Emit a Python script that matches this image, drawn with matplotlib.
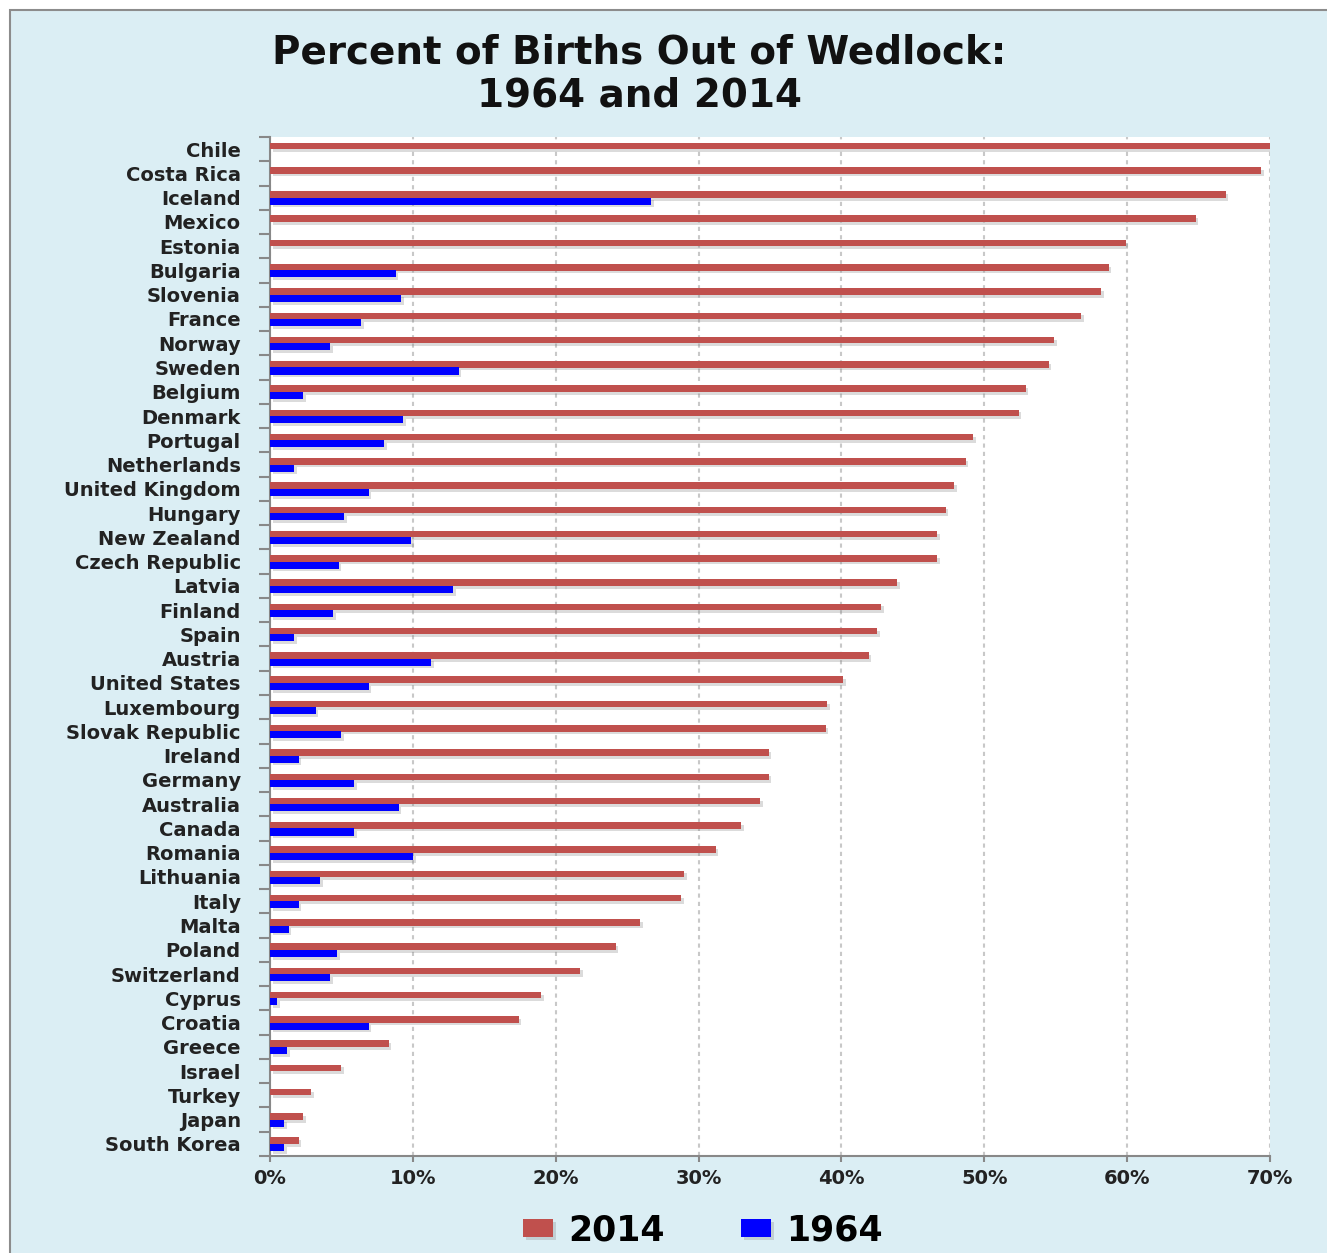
import matplotlib
matplotlib.use('Agg')
import matplotlib.pyplot as plt
import matplotlib.patheffects as pe
from matplotlib.patches import Rectangle
from matplotlib.ticker import FuncFormatter, MultipleLocator
import numpy as np

countries = ['Chile', 'Costa Rica', 'Iceland', 'Mexico', 'Estonia', 'Bulgaria',
             'Slovenia', 'France', 'Norway', 'Sweden', 'Belgium', 'Denmark',
             'Portugal', 'Netherlands', 'United Kingdom', 'Hungary',
             'New Zealand', 'Czech Republic', 'Latvia', 'Finland', 'Spain',
             'Austria', 'United States', 'Luxembourg', 'Slovak Republic',
             'Ireland', 'Germany', 'Australia', 'Canada', 'Romania',
             'Lithuania', 'Italy', 'Malta', 'Poland', 'Switzerland', 'Cyprus',
             'Croatia', 'Greece', 'Israel', 'Turkey', 'Japan', 'South Korea']

# percent of births out of wedlock, 2014
births_2014 = [70.0, 69.4, 66.9, 64.8, 59.9, 58.7, 58.2, 56.8, 54.9, 54.5,
               52.9, 52.4, 49.2, 48.7, 47.9, 47.3, 46.7, 46.7, 43.9, 42.8,
               42.5, 41.9, 40.1, 39.0, 38.9, 34.9, 34.9, 34.3, 33.0, 31.2,
               29.0, 28.8, 25.9, 24.2, 21.7, 19.0, 17.4, 8.3, 5.0, 2.9,
               2.3, 2.0]

# 1964 (0 where no bar is shown)
births_1964 = [0.0, 0.0, 26.7, 0.0, 0.0, 8.8, 9.2, 6.4, 4.2, 13.2,
               2.3, 9.3, 8.0, 1.7, 6.9, 5.2, 9.9, 4.8, 12.8, 4.4,
               1.7, 11.3, 6.9, 3.2, 5.0, 2.0, 5.9, 9.0, 5.9, 10.0,
               3.5, 2.0, 1.3, 4.7, 4.2, 0.5, 6.9, 1.2, 0.0, 0.0,
               1.0, 1.0]

red = '#c0504d'
blue = '#0000ff'
bg = '#dbeef4'

plt.rcParams['font.family'] = 'DejaVu Sans'
plt.rcParams['font.weight'] = 'bold'

fig = plt.figure(figsize=(13.27, 12.53), dpi=100, facecolor='white')
# light blue chart area with a grey frame on left/top
fig.patches.append(Rectangle((10 / 1327, -0.01), 1.0, 1 - 10 / 1253 + 0.01,
                             transform=fig.transFigure, facecolor=bg,
                             edgecolor='#8c8c8c', linewidth=1.5, zorder=-10))

ax = fig.add_axes([270 / 1327, 1 - 1156 / 1253, 1000 / 1327, 1019 / 1253])
ax.set_facecolor('white')

y = np.arange(len(countries))
shadow = [pe.SimplePatchShadow(offset=(2, -2), shadow_rgbFace='#888888',
                               alpha=0.3), pe.Normal()]
ax.barh(y - 0.13, births_2014, height=0.27, color=red, label='2014',
        path_effects=shadow, zorder=3)
ax.barh(y + 0.145, births_1964, height=0.29, color=blue, label='1964',
        path_effects=shadow, zorder=3)

ax.set_xlim(0, 70)
ax.set_ylim(len(countries) - 0.5, -0.5)
ax.xaxis.set_major_locator(MultipleLocator(10))
ax.xaxis.set_major_formatter(FuncFormatter(lambda v, p: '%d%%' % v))
ax.set_yticks(y)
ax.set_yticklabels(countries)
ax.set_yticks(np.arange(-0.5, len(countries)), minor=True)

ax.tick_params(axis='y', which='major', length=0, pad=21, labelsize=14,
               labelcolor='#222222')
ax.tick_params(axis='y', which='minor', length=8, color='#888888', width=1.5)
ax.tick_params(axis='x', which='major', length=4, color='#888888', width=1.5,
               labelsize=14, labelcolor='#222222', pad=5)

ax.grid(axis='x', linestyle=(0, (2, 2)), color='#c8c8c8', linewidth=1.5,
        zorder=0)
ax.set_axisbelow(True)
for side in ('top', 'right'):
    ax.spines[side].set_visible(False)
for side in ('left', 'bottom'):
    ax.spines[side].set_color('#888888')
    ax.spines[side].set_linewidth(1.5)

fig.text(0.482, 0.958, 'Percent of Births Out of Wedlock:', ha='center',
         va='center', fontsize=28, fontweight='bold', color='#111111')
fig.text(0.482, 0.924, '1964 and 2014', ha='center', va='center',
         fontsize=28, fontweight='bold', color='#111111')

leg = fig.legend(loc='center', bbox_to_anchor=(0.53, 0.018), ncol=2,
                 frameon=False, fontsize=25, handlelength=0.85,
                 handleheight=0.45, columnspacing=2.2, handletextpad=0.45)

fig.savefig('out.png', dpi=100, facecolor=fig.get_facecolor())
